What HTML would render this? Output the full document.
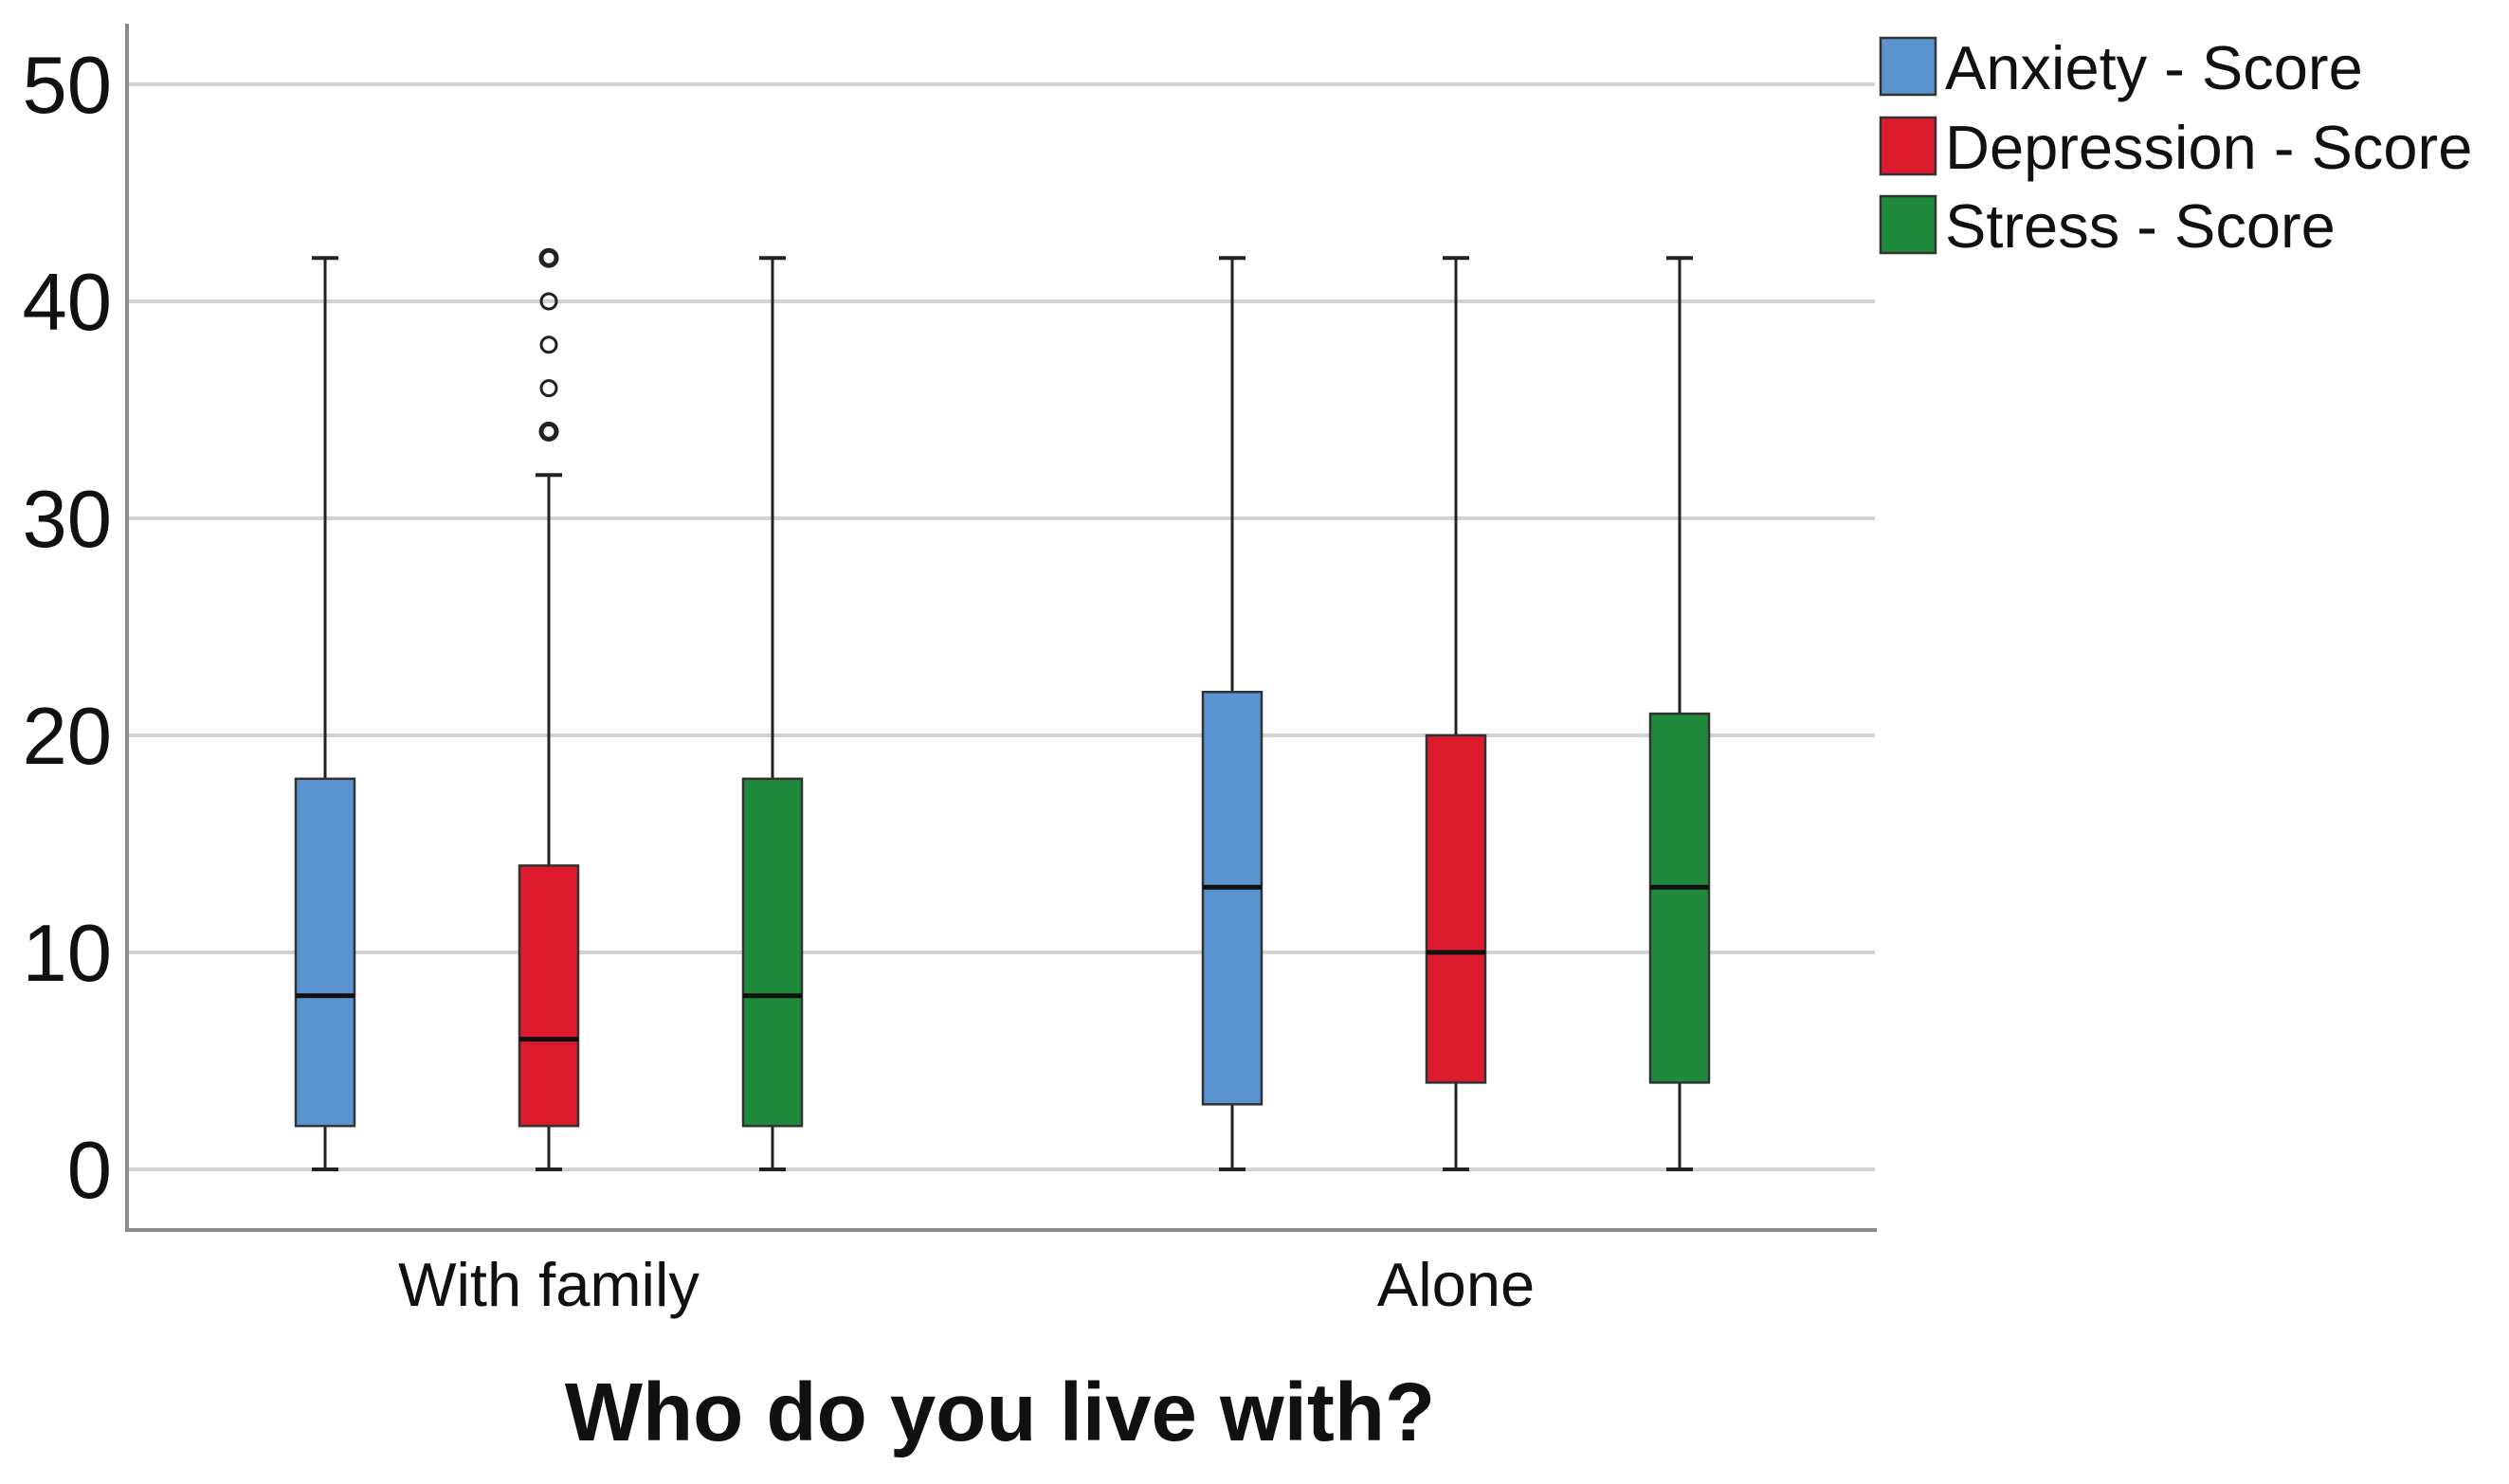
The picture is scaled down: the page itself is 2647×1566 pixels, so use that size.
<!DOCTYPE html>
<html><head><meta charset="utf-8"><style>
html,body{margin:0;padding:0;background:#fff;}
svg{display:block;font-family:"Liberation Sans",Arial,sans-serif;}
</style></head><body>
<svg id="chart" width="2647" height="1566" viewBox="0 0 2647 1566">
<g id="grid"></g>
<g id="yticks"></g>
<line x1="134" y1="25" x2="134" y2="1298" stroke="#8a8a8a" stroke-width="4"/>
<line x1="132" y1="1298" x2="1980" y2="1298" stroke="#8a8a8a" stroke-width="4"/>
<g id="boxes"></g>
<g id="xlabels"></g>
<text x="1055" y="1520" font-size="87" font-weight="bold" text-anchor="middle" fill="#111">Who do you live with?</text>
<g id="legend"></g>
</svg>
<script>
const categories = ["With family", "Alone"];
const seriesNames = ["Anxiety - Score", "Depression - Score", "Stress - Score"];
const colors = ["#5b93d0", "#dd1a2e", "#1f8a3c"];
// [min, q1, median, q3, max] per series per category
const anxiety = [[0, 2, 8, 18, 42], [0, 3, 13, 22, 42]];
const depression = [[0, 2, 6, 14, 32], [0, 4, 10, 20, 42]];
const stress = [[0, 2, 8, 18, 42], [0, 4, 13, 21, 42]];
const depressionOutliersFamily = [34, 36, 38, 40, 42];
const yTicks = [0, 10, 20, 30, 40, 50];

const NS = "http://www.w3.org/2000/svg";
function mk(tag, attrs, parent) {
  const e = document.createElementNS(NS, tag);
  for (const k in attrs) e.setAttribute(k, attrs[k]);
  parent.appendChild(e);
  return e;
}
const y0 = 1234, pxPerUnit = 22.9;
function yScale(v) { return y0 - v * pxPerUnit; }
const groupCenters = [579, 1536];
const offset = 236;
function xScale(ci, si) { return groupCenters[ci] + (si - 1) * offset; }

const grid = document.getElementById('grid');
const yt = document.getElementById('yticks');
yTicks.forEach(t => {
  const l = mk('line', {x1: 134, x2: 1978, y1: yScale(t), y2: yScale(t), stroke: '#d2d2d2', 'stroke-width': 4}, grid);
  
  
  const tx = mk('text', {x: 118, y: yScale(t) + 30, 'font-size': 85, 'text-anchor': 'end', fill: '#111'}, yt);
  tx.textContent = t;
  
  
});

const boxes = document.getElementById('boxes');
const all = [anxiety, depression, stress];
const hw = 31;
all.forEach((ser, si) => {
  ser.forEach((d, ci) => {
    const cx = xScale(ci, si);
    const g = mk('g', {}, boxes);
    
    
    mk('line', {x1: cx, x2: cx, y1: yScale(d[4]), y2: yScale(d[3]), stroke: '#222', 'stroke-width': 3}, g);
    mk('line', {x1: cx, x2: cx, y1: yScale(d[1]), y2: yScale(d[0]), stroke: '#222', 'stroke-width': 3}, g);
    mk('line', {x1: cx - 14, x2: cx + 14, y1: yScale(d[4]), y2: yScale(d[4]), stroke: '#222', 'stroke-width': 4}, g);
    mk('line', {x1: cx - 14, x2: cx + 14, y1: yScale(d[0]), y2: yScale(d[0]), stroke: '#222', 'stroke-width': 4}, g);
    mk('rect', {x: cx - hw, y: yScale(d[3]), width: hw * 2, height: yScale(d[1]) - yScale(d[3]), fill: colors[si], stroke: '#333', 'stroke-width': 2.5}, g);
    mk('line', {x1: cx - hw, x2: cx + hw, y1: yScale(d[2]), y2: yScale(d[2]), stroke: '#111', 'stroke-width': 5}, g);
  });
});
depressionOutliersFamily.forEach((v, i) => {
  const c = mk('circle', {cx: xScale(0, 1), cy: yScale(v), r: 8, fill: 'none', stroke: '#222', 'stroke-width': (v === 34 || v === 42) ? 5 : 3}, boxes);
  
  
});

const xl = document.getElementById('xlabels');
categories.forEach((c, i) => {
  const t = mk('text', {x: groupCenters[i], y: 1378, 'font-size': 65, 'text-anchor': 'middle', fill: '#111'}, xl);
  t.textContent = c;
  
  
});

const lg = document.getElementById('legend');
const legY = [40, 124, 207];
seriesNames.forEach((n, i) => {
  const g = mk('g', {}, lg);
  
  
  mk('rect', {x: 1984, y: legY[i], width: 58, height: 60, fill: colors[i], stroke: '#333', 'stroke-width': 2.5}, g);
  const t = mk('text', {x: 2052, y: legY[i] + 54, 'font-size': 65, fill: '#111'}, g);
  t.textContent = n;
});
</script>
</body></html>
